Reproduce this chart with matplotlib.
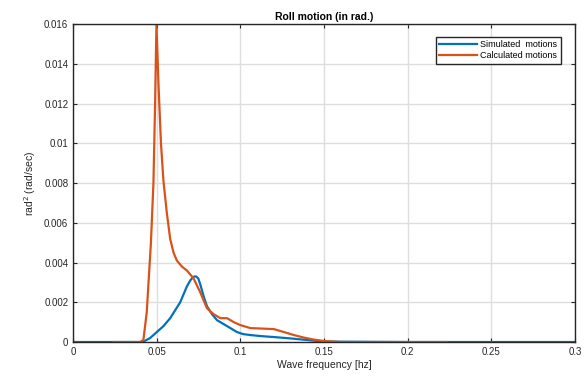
#! /usr/bin/python

import matplotlib as mpl
mpl.use('agg')

import matplotlib.pyplot as plt
import numpy as np

# simulated motions (blue)
sim_freq = [0.0, 0.030, 0.040, 0.042, 0.046, 0.050, 0.054, 0.058, 0.061, 0.064,
            0.066, 0.068, 0.070, 0.0715, 0.0725, 0.0735, 0.0748, 0.076, 0.078,
            0.080, 0.083, 0.086, 0.090, 0.094, 0.098, 0.1015, 0.106, 0.112,
            0.120, 0.130, 0.140, 0.150, 0.200, 0.300]
sim_val = [0.0, 0.0, 0.0, 0.00002, 0.0002, 0.0005, 0.0008, 0.0012, 0.0016, 0.0020,
           0.0024, 0.0028, 0.0031, 0.00325, 0.0033, 0.0033, 0.0032, 0.0029, 0.0023,
           0.0018, 0.0014, 0.0011, 0.0009, 0.0007, 0.0005, 0.0004, 0.00035, 0.0003,
           0.00025, 0.00018, 0.0001, 0.00002, 0.0, 0.0]

# calculated motions (orange)
calc_freq = [0.024, 0.040, 0.042, 0.044, 0.0465, 0.048, 0.049, 0.0498, 0.051,
             0.0525, 0.054, 0.056, 0.058, 0.060, 0.062, 0.065, 0.068, 0.072,
             0.076, 0.080, 0.084, 0.088, 0.092, 0.096, 0.100, 0.106, 0.112,
             0.120, 0.126, 0.132, 0.138, 0.144, 0.150, 0.160, 0.2235]
calc_val = [0.0, 0.0, 0.0001, 0.0015, 0.005, 0.008, 0.012, 0.0160, 0.0130,
            0.0100, 0.0081, 0.0065, 0.0052, 0.0045, 0.0041, 0.0038, 0.0036, 0.0032,
            0.0025, 0.0017, 0.0014, 0.0012, 0.0012, 0.0010, 0.00085, 0.0007, 0.00068,
            0.00065, 0.0005, 0.00035, 0.00022, 0.00012, 0.00005, 0.0, 0.0]

x_ticks = [0, 0.05, 0.1, 0.15, 0.2, 0.25, 0.3]
x_labels = ['0', '0.05', '0.1', '0.15', '0.2', '0.25', '0.3']
y_ticks = [0, 0.002, 0.004, 0.006, 0.008, 0.01, 0.012, 0.014, 0.016]
y_labels = ['0', '0.002', '0.004', '0.006', '0.008', '0.01', '0.012', '0.014', '0.016']

BLUE = '#0072BD'
ORANGE = '#D95319'
AXC = '#262626'

plt.rc('font', family='Liberation Sans', size=7)

fig = plt.figure(figsize=(5.85, 3.83), dpi=100)
ax = fig.add_axes([0.125, 0.107, 0.858, 0.830])

ax.plot(sim_freq, sim_val, color=BLUE, lw=1.6, label='Simulated  motions')
ax.plot(calc_freq, calc_val, color=ORANGE, lw=1.6, label='Calculated motions')

ax.set_xlim(0, 0.3)
ax.set_ylim(0, 0.016)
ax.set_xticks(x_ticks)
ax.set_xticklabels(x_labels)
ax.set_yticks(y_ticks)
ax.set_yticklabels(y_labels)

ax.grid(True, color='#dedede', lw=1.0)
ax.set_axisbelow(True)
ax.tick_params(direction='in', top=True, right=True, length=3, width=0.8,
               colors=AXC, labelsize=7)
for s in ax.spines.values():
    s.set_color(AXC)
    s.set_linewidth(1.0)

ax.set_title('Roll motion (in rad.)', fontsize=7.5, fontweight='bold', pad=3)
ax.set_xlabel('Wave frequency [hz]', fontsize=7.5, color=AXC, labelpad=2)
ax.set_ylabel('rad$^2$ (rad/sec)', fontsize=7.5, color=AXC, labelpad=4)

leg = ax.legend(loc='upper right', fontsize=6.5, handlelength=4.2,
                handletextpad=0.3, borderpad=0.4, labelspacing=0.25,
                fancybox=False, framealpha=1, bbox_to_anchor=(0.98, 0.975))
leg.get_frame().set_edgecolor(AXC)
leg.get_frame().set_linewidth(1.0)

fig.savefig('out.png', dpi=100)
